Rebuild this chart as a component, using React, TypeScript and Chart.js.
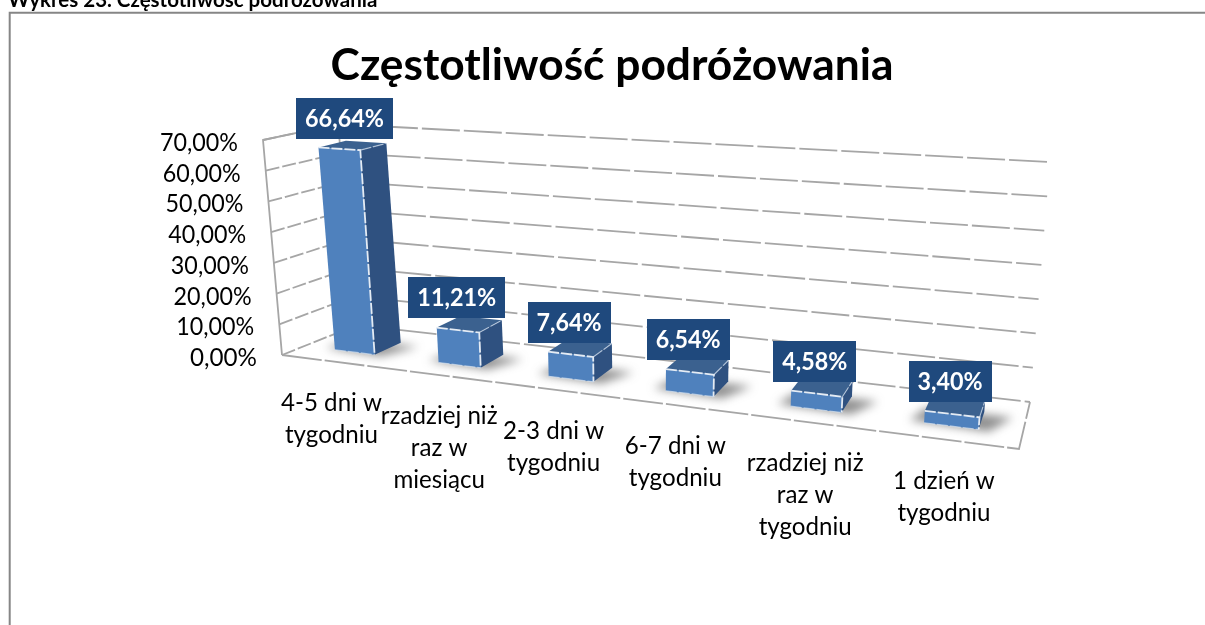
import React, { useEffect, useRef } from "react";
import { Chart, registerables } from "chart.js";

Chart.register(...registerables);

const categories: string[][] = [
  ["4-5 dni w", "tygodniu"],
  ["rzadziej niż", "raz w", "miesiącu"],
  ["2-3 dni w", "tygodniu"],
  ["6-7 dni w", "tygodniu"],
  ["rzadziej niż", "raz w", "tygodniu"],
  ["1 dzień w", "tygodniu"],
];
const values: number[] = [66.64, 11.21, 7.64, 6.54, 4.58, 3.4];
const chartTitle = "Częstotliwość podróżowania";
const pageCaption = "Wykres 23. Częstotliwość podróżowania";

const FONT = "Lato, Carlito, Calibri, sans-serif";
const pct = (n: number) => n.toFixed(2).replace(".", ",") + "%";

// box corners of the 3D plot: [depth][side][height]
const CORNERS = {
  fl0: [282, 355], fl1: [263, 140],
  fr0: [1019, 449], fr1: [1041, 192],
  bl0: [357, 325], bl1: [338, 124],
  br0: [1030, 402], br1: [1050, 162],
};
const lerp = (a: number[], b: number[], t: number) => [a[0] + (b[0] - a[0]) * t, a[1] + (b[1] - a[1]) * t];
const persp = (u: number) => u / (u + 1.21 * (1 - u));
function project(u: number, v: number, d: number): number[] {
  const w = persp(u);
  const c = CORNERS;
  const front = lerp(lerp(c.fl0, c.fr0, w), lerp(c.fl1, c.fr1, w), v);
  const back = lerp(lerp(c.bl0, c.br0, w), lerp(c.bl1, c.br1, w), v);
  return lerp(front, back, d);
}
const D0 = 0.3;
const D1 = 0.68;

function poly(ctx: CanvasRenderingContext2D, pts: number[][], close = true) {
  ctx.beginPath();
  pts.forEach((p, i) => (i ? ctx.lineTo(p[0], p[1]) : ctx.moveTo(p[0], p[1])));
  if (close) ctx.closePath();
}
function squeezed(ctx: CanvasRenderingContext2D, s: string, x: number, y: number, k: number) {
  const w = ctx.measureText(s).width;
  ctx.fillText(s, x, y, w * k);
}

const box3d = {
  id: "box3d",
  beforeDatasetDraw(chart: any, args: any) {
    const ctx: CanvasRenderingContext2D = chart.ctx;
    const xs = chart.scales.x;
    const ys = chart.scales.y;
    const toV = (px: number) => (ys.bottom - px) / (ys.bottom - ys.top);
    const toU = (px: number) => (px - xs.left) / (xs.right - xs.left);

    ctx.save();
    // outer frame
    ctx.strokeStyle = "#868686";
    ctx.lineWidth = 2;
    poly(ctx, [[9.7, 640], [9.7, 12.7], [1230, 12.7]], false);
    ctx.stroke();

    // gridlines: back and side walls
    ctx.strokeStyle = "#A6A6A6";
    ctx.lineWidth = 1.8;
    ys.ticks.forEach((t: any) => {
      const v = toV(ys.getPixelForValue(t.value));
      ctx.setLineDash([14, 3]);
      poly(ctx, [project(0, v, 0), project(0, v, 1)], false);
      ctx.stroke();
      ctx.setLineDash([38, 4]);
      poly(ctx, [project(0, v, 1), project(1, v, 1)], false);
      ctx.stroke();
    });
    ctx.setLineDash([40, 3]);
    poly(ctx, [project(0, 0, 0), project(1, 0, 0), project(1, 0, 1)], false);
    ctx.stroke();
    ctx.setLineDash([]);
    poly(ctx, [project(0, 0, 0), project(0, 1, 0), project(0, 1, 1), project(0, 0, 1)], false);
    ctx.stroke();

    // value-axis labels
    ctx.fillStyle = "#000";
    ctx.font = `25px ${FONT}`;
    ctx.textAlign = "right";
    ctx.textBaseline = "middle";
    ys.ticks.forEach((t: any) => {
      const v = toV(ys.getPixelForValue(t.value));
      const p = project(0, v, 0);
      ctx.fillText(pct(t.value), p[0] - 25, p[1] + 3, 78 - (0 === t.value ? 11 : 0));
    });

    // category labels
    ctx.textAlign = "center";
    chart.data.labels.forEach((lines: string[], i: number) => {
      const p = project(toU(xs.getPixelForValue(i)), 0, 0);
      lines.forEach((s, j) => {
        squeezed(ctx, s, p[0] - 2, p[1] + 41 + j * 32, 0.965);
      });
    });

    const meta = chart.getDatasetMeta(args.index);
    const rects = meta.data.map((el: any) => {
      const p = el.getProps(["x", "y", "base", "width"], true);
      return {
        u0: toU(p.x - p.width / 2),
        u1: toU(p.x + p.width / 2),
        v: toV(p.y),
        vb: toV(p.base),
      };
    });

    // soft floor shadows
    rects.forEach((r: any) => {
      ctx.save();
      ctx.filter = "blur(5px)";
      ctx.fillStyle = "rgba(70,70,70,0.6)";
      poly(ctx, [
        project(r.u0 - 0.018, 0, D0 + 0.02),
        project(r.u1 + 0.012, 0, D0 - 0.02),
        project(r.u1 + 0.035, 0, D1 - 0.05),
        project(r.u0 - 0.005, 0, D1 - 0.05),
      ]);
      ctx.fill();
      ctx.restore();
    });

    // bars
    rects.forEach((r: any) => {
      const a = project(r.u0, r.vb, D0);
      const b = project(r.u1, r.vb, D0);
      const c = project(r.u1, r.v, D0);
      const e = project(r.u0, r.v, D0);
      const f = project(r.u1, r.vb, D1);
      const g = project(r.u1, r.v, D1);
      const h = project(r.u0, r.v, D1);
      ctx.fillStyle = "#2F5180";
      poly(ctx, [b, f, g, c]);
      ctx.fill();
      ctx.fillStyle = "#3B618F";
      poly(ctx, [e, c, g, h]);
      ctx.fill();
      ctx.fillStyle = "#4F81BD";
      poly(ctx, [a, b, c, e]);
      ctx.fill();
      ctx.setLineDash([11, 2]);
      ctx.strokeStyle = "rgba(236,241,248,0.95)";
      ctx.lineWidth = 1.8;
      poly(ctx, [e, c, b], false);
      ctx.stroke();
      ctx.strokeStyle = "rgba(220,230,242,0.65)";
      ctx.lineWidth = 1.2;
      poly(ctx, [a, b], false);
      ctx.stroke();
      poly(ctx, [c, g], false);
      ctx.stroke();
      ctx.setLineDash([]);
    });

    // data labels
    ctx.font = `bold 25px ${FONT}`;
    ctx.textAlign = "center";
    ctx.textBaseline = "middle";
    chart.data.datasets[args.index].data.forEach((val: number, i: number) => {
      const r = rects[i];
      const s = pct(val);
      const left = project(r.u0, r.v, D0);
      const right = project(r.u1, r.v, D0);
      const cx = (left[0] + right[0]) / 2 - 2.5 + 8 * r.v;
      const bottom = (left[1] + right[1]) / 2 - 12 + 2 * r.v;
      const tw = 14 * s.length - 5;
      const bw = tw + 18;
      ctx.fillStyle = "#1F497D";
      ctx.fillRect(Math.round(cx - bw / 2), Math.round(bottom - 41), bw, 41);
      ctx.fillStyle = "#FFFFFF";
      ctx.fillText(s, cx, bottom - 20, tw);
    });
    ctx.restore();
    return false;
  },
};

export default function App() {
  const ref = useRef<HTMLCanvasElement>(null);
  useEffect(() => {
    if (!ref.current) return;
    const chart = new Chart(ref.current, {
      type: "bar",
      data: {
        labels: categories as any,
        datasets: [
          {
            label: chartTitle,
            data: values,
            backgroundColor: "#4F81BD",
            categoryPercentage: 1,
            barPercentage: 0.39,
          },
        ],
      },
      options: {
        responsive: false,
        animation: false,
        layout: { padding: { left: 20, right: 20, top: 20, bottom: 20 } },
        plugins: {
          legend: { display: false },
          tooltip: { enabled: false },
          title: {
            display: true,
            text: chartTitle,
            color: "#000",
            font: { family: FONT, size: 44.3, weight: "bold" },
            padding: { top: 19, bottom: 10 },
          },
        },
        scales: {
          x: { display: false, offset: true },
          y: { display: false, min: 0, max: 70, ticks: { stepSize: 10 } },
        },
      },
      plugins: [box3d],
    } as any);
    return () => chart.destroy();
  }, []);
  return (
    <div style={{ position: "absolute", left: 0, top: 0, width: 1205, height: 625, overflow: "hidden", background: "#fff" }}>
      <canvas ref={ref} width={1224} height={625} style={{ position: "absolute", left: 0, top: 0 }} />
      <div style={{ position: "absolute", left: 8, top: -13, font: `bold 20.5px ${FONT}`, whiteSpace: "nowrap", color: "#000" }}>
        {pageCaption}
      </div>
    </div>
  );
}
